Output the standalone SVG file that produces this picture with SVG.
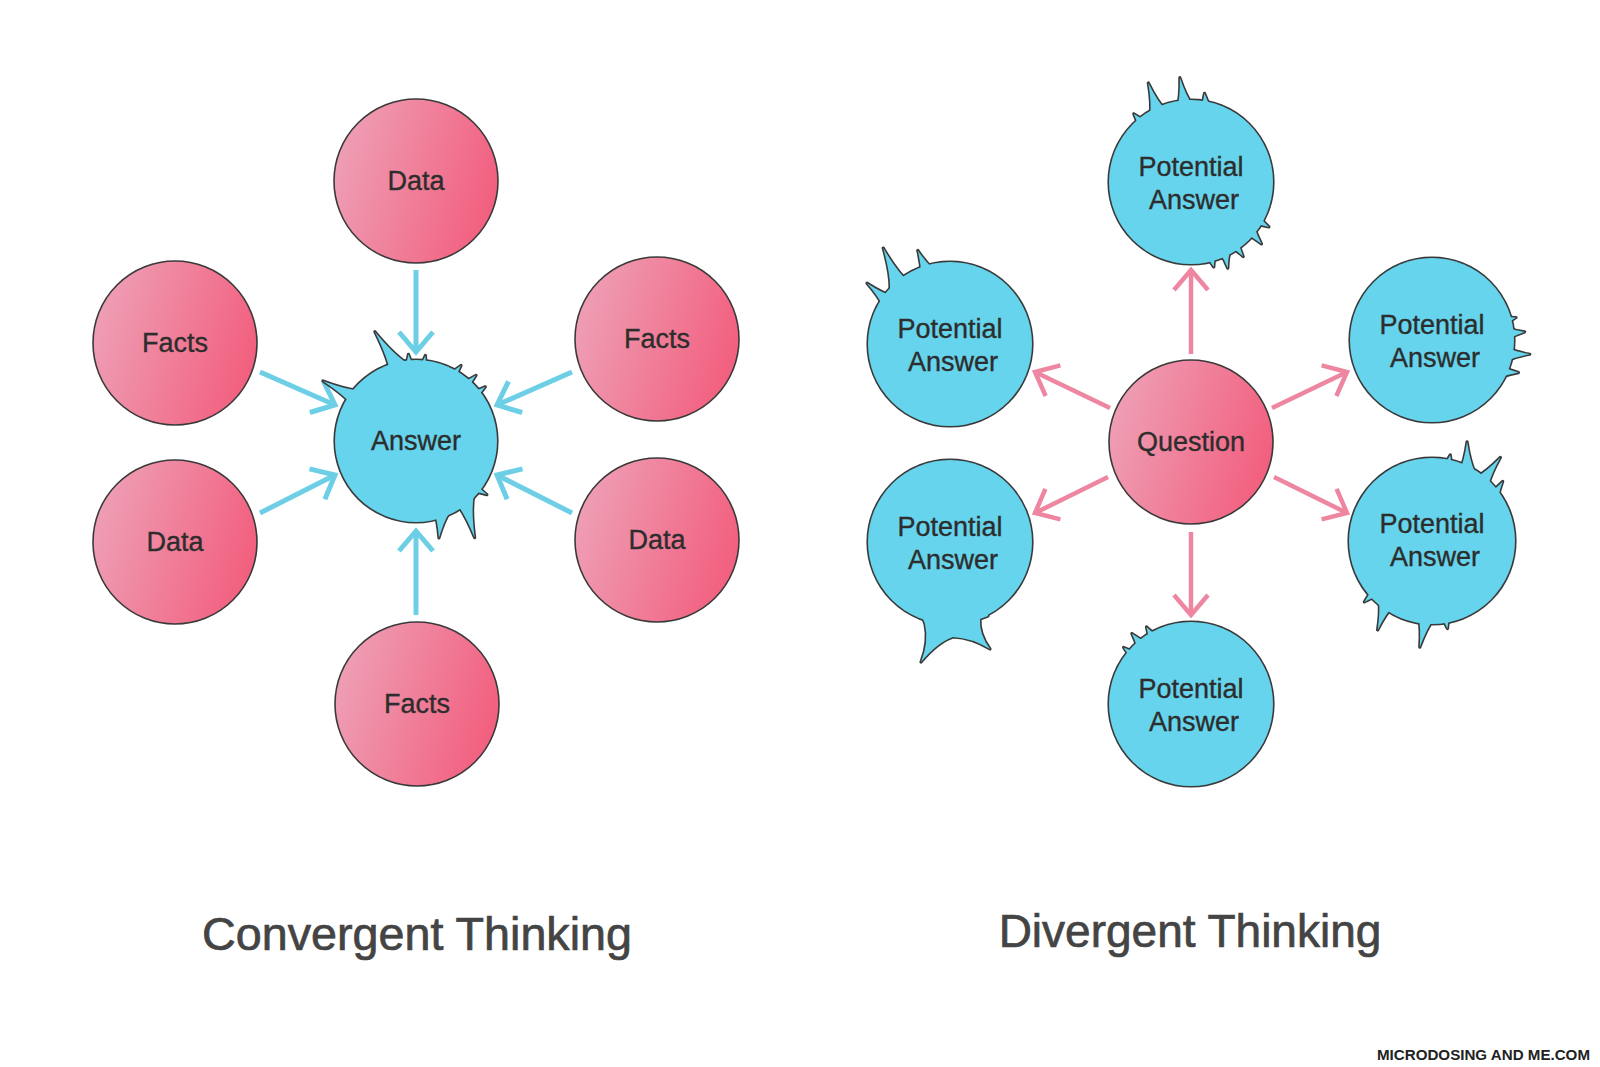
<svg xmlns="http://www.w3.org/2000/svg" xmlns:xlink="http://www.w3.org/1999/xlink" width="1600" height="1067" viewBox="0 0 1600 1067">
<style>
.pink{fill:url(#pg);stroke:#3a3a3a;stroke-width:1.6}
.ol{fill:#65d4ec;stroke:#3a3a3a;stroke-width:3.2;stroke-linejoin:round}
.fo{fill:#65d4ec;stroke:none}
.lbl{font-family:"Liberation Sans",Arial,Helvetica,sans-serif;font-size:27px;fill:#2d2d2d;stroke:#2d2d2d;stroke-width:0.35;text-anchor:middle}
.title{font-family:"Liberation Sans",Arial,Helvetica,sans-serif;font-size:46px;fill:#444;stroke:#444;stroke-width:0.7;text-anchor:middle}
.cv{stroke:#6dcfe6;stroke-width:5;fill:none;marker-end:url(#ab)}
.dv{stroke:#ee86a2;stroke-width:4.5;fill:none;marker-end:url(#ap)}
</style>
<defs>
<linearGradient id="pg" x1="0" y1="0.2" x2="1" y2="0.5">
<stop offset="0" stop-color="#eea2b8"/>
<stop offset="1" stop-color="#f2607f"/>
</linearGradient>
<marker id="ab" markerUnits="userSpaceOnUse" orient="auto" markerWidth="60" markerHeight="60" viewBox="-30 -30 60 60" refX="0" refY="0" overflow="visible">
<path d="M-20,-17 L0,0 L-20,17" fill="none" stroke="#6dcfe6" stroke-width="5"/>
</marker>
<marker id="ap" markerUnits="userSpaceOnUse" orient="auto" markerWidth="60" markerHeight="60" viewBox="-30 -30 60 60" refX="0" refY="0" overflow="visible">
<path d="M-20,-17 L0,0 L-20,17" fill="none" stroke="#ee86a2" stroke-width="4.5"/>
</marker>

<g id="sh-ans">
<circle cx="416" cy="441" r="81"/>
<g transform="translate(416,441)">
<path transform="rotate(-105) translate(81,0) rotate(-18)" d="M-7,-10 Q7,-3.5 37,0 Q7,3.5 -7,10Z"/>
<path transform="rotate(-145) translate(81,0) rotate(-8)" d="M-7,-8 Q6,-2.8 30,0 Q6,2.8 -7,8Z"/>
<path transform="rotate(-95) translate(81,0)" d="M-7,-4 Q1.2,-1.4 6,0 Q1.2,1.4 -7,4Z"/>
<path transform="rotate(-84) translate(81,0) rotate(5)" d="M-7,-3 Q1,-1 5,0 Q1,1 -7,3Z"/>
<path transform="rotate(-60) translate(81,0) rotate(10)" d="M-7,-4 Q1.4,-1.4 7,0 Q1.4,1.4 -7,4Z"/>
<path transform="rotate(-48) translate(81,0) rotate(5)" d="M-7,-4 Q1.6,-1.4 8,0 Q1.6,1.4 -7,4Z"/>
<path transform="rotate(-38) translate(81,0)" d="M-7,-4 Q1.4,-1.4 7,0 Q1.4,1.4 -7,4Z"/>
<path transform="rotate(38) translate(81,0) rotate(-10)" d="M-7,-4 Q1.6,-1.4 8,0 Q1.6,1.4 -7,4Z"/>
<path transform="rotate(52) translate(81,0) rotate(23)" d="M-7,-10 Q7,-3.5 34,0 Q7,3.5 -7,10Z"/>
<path transform="rotate(72) translate(81,0) rotate(24)" d="M-7,-8 Q4,-2.8 20,0 Q4,2.8 -7,8Z"/>
</g>
</g>

<g id="sh-pa1">
<circle cx="1191" cy="182" r="82"/>
<g transform="translate(1191,182)">
<path transform="rotate(-115) translate(82,0) rotate(7)" d="M-7,-9 Q5,-3 26,0 Q5,3 -7,9Z"/>
<path transform="rotate(-95) translate(82,0) rotate(-5)" d="M-7,-8 Q4.6,-2.8 23,0 Q4.6,2.8 -7,8Z"/>
<path transform="rotate(-80) translate(82,0) rotate(-15)" d="M-7,-5 Q1.6,-1.6 8,0 Q1.6,1.6 -7,5Z"/>
<path transform="rotate(-130) translate(82,0)" d="M-7,-5 Q1.4,-1.6 7,0 Q1.4,1.6 -7,5Z"/>
<path transform="rotate(30) translate(82,0)" d="M-7,-5 Q1.6,-1.6 8,0 Q1.6,1.6 -7,5Z"/>
<path transform="rotate(40) translate(82,0) rotate(10)" d="M-7,-6 Q2.4,-2 12,0 Q2.4,2 -7,6Z"/>
<path transform="rotate(55) translate(82,0)" d="M-7,-5 Q1.8,-1.6 9,0 Q1.8,1.6 -7,5Z"/>
<path transform="rotate(65) translate(82,0) rotate(15)" d="M-7,-6 Q2.4,-2 12,0 Q2.4,2 -7,6Z"/>
<path transform="rotate(75) translate(82,0)" d="M-7,-5 Q1.2,-1.6 6,0 Q1.2,1.6 -7,5Z"/>
</g>
</g>

<g id="sh-pa2">
<circle cx="950" cy="344" r="82"/>
<g transform="translate(950,344)">
<path transform="rotate(-130) translate(82,0) rotate(17)" d="M-7,-11 Q7,-3.8 36,0 Q7,3.8 -7,11Z"/>
<path transform="rotate(-108) translate(82,0) rotate(-6)" d="M-7,-7 Q3.4,-2.4 17,0 Q3.4,2.4 -7,7Z"/>
<path transform="rotate(-145) translate(82,0) rotate(6)" d="M-7,-7 Q4.2,-2.4 21,0 Q4.2,2.4 -7,7Z"/>
</g>
</g>

<g id="sh-pa3">
<circle cx="1432" cy="340" r="82"/>
<g transform="translate(1432,340)">
<path transform="rotate(-15) translate(82,0)" d="M-7,-4 Q1,-1.4 5,0 Q1,1.4 -7,4Z"/>
<path transform="rotate(-5) translate(82,0)" d="M-7,-6 Q2.2,-2 11,0 Q2.2,2 -7,6Z"/>
<path transform="rotate(10) translate(82,0) rotate(-10)" d="M-7,-7 Q3.4,-2.4 17,0 Q3.4,2.4 -7,7Z"/>
<path transform="rotate(23) translate(82,0) rotate(-20)" d="M-7,-6 Q2.2,-2 11,0 Q2.2,2 -7,6Z"/>
</g>
</g>

<g id="sh-pa4">
<circle cx="950" cy="542" r="82"/>
<path d="M918,606 L925,624 Q929,642 921,662 Q938,642 953,637 Q972,638 990,649 Q979,634 980,619 L988,616 L985,604 Z"/>
</g>

<g id="sh-pa5">
<circle cx="1432" cy="541" r="83"/>
<g transform="translate(1432,541)">
<path transform="rotate(-65) translate(83,0) rotate(-25)" d="M-7,-8 Q4.8,-2.8 24,0 Q4.8,2.8 -7,8Z"/>
<path transform="rotate(-50) translate(83,0) rotate(-3)" d="M-7,-8 Q5,-2.8 25,0 Q5,2.8 -7,8Z"/>
<path transform="rotate(-38) translate(83,0) rotate(-20)" d="M-7,-5 Q2,-1.6 10,0 Q2,1.6 -7,5Z"/>
<path transform="rotate(-78) translate(83,0)" d="M-7,-4 Q1,-1.4 5,0 Q1,1.4 -7,4Z"/>
<path transform="rotate(95) translate(83,0) rotate(7)" d="M-7,-8 Q4.8,-2.8 24,0 Q4.8,2.8 -7,8Z"/>
<path transform="rotate(125) translate(83,0) rotate(-17)" d="M-7,-8 Q4.4,-2.8 22,0 Q4.4,2.8 -7,8Z"/>
<path transform="rotate(138) translate(83,0)" d="M-7,-5 Q1.6,-1.6 8,0 Q1.6,1.6 -7,5Z"/>
<path transform="rotate(80) translate(83,0)" d="M-7,-4 Q1.2,-1.4 6,0 Q1.2,1.4 -7,4Z"/>
</g>
</g>

<g id="sh-pa6">
<circle cx="1191" cy="704" r="82"/>
<g transform="translate(1191,704)">
<path transform="rotate(-130) translate(82,0)" d="M-7,-6 Q2,-2 10,0 Q2,2 -7,6Z"/>
<path transform="rotate(-120) translate(82,0)" d="M-7,-5 Q1.4,-1.6 7,0 Q1.4,1.6 -7,5Z"/>
<path transform="rotate(-140) translate(82,0)" d="M-7,-4 Q1.2,-1.4 6,0 Q1.2,1.4 -7,4Z"/>
</g>
</g>
</defs>

<rect width="1600" height="1067" fill="#ffffff"/>

<g id="connectors">
<path class="cv" d="M416,270 L416,352"/>
<path class="cv" d="M416,615 L416,531"/>
<path class="cv" d="M260,372 L335,405"/>
<path class="cv" d="M260,513 L335,475"/>
<path class="cv" d="M572,372 L497,405"/>
<path class="cv" d="M572,513 L497,475"/>
<path class="dv" d="M1191,354 L1191,270"/>
<path class="dv" d="M1191,532 L1191,615"/>
<path class="dv" d="M1110,408 L1035,372"/>
<path class="dv" d="M1272,408 L1347,372"/>
<path class="dv" d="M1108,477 L1035,513"/>
<path class="dv" d="M1274,477 L1347,513"/>
</g>

<g id="conv-data-top"><circle class="pink" cx="416" cy="181" r="82"/><text class="lbl" x="416" y="190">Data</text></g>
<g id="conv-facts-left"><circle class="pink" cx="175" cy="343" r="82"/><text class="lbl" x="175" y="352">Facts</text></g>
<g id="conv-facts-right"><circle class="pink" cx="657" cy="339" r="82"/><text class="lbl" x="657" y="348">Facts</text></g>
<g id="conv-data-left"><circle class="pink" cx="175" cy="542" r="82"/><text class="lbl" x="175" y="551">Data</text></g>
<g id="conv-data-right"><circle class="pink" cx="657" cy="540" r="82"/><text class="lbl" x="657" y="549">Data</text></g>
<g id="conv-facts-bottom"><circle class="pink" cx="417" cy="704" r="82"/><text class="lbl" x="417" y="713">Facts</text></g>
<g id="conv-answer"><use xlink:href="#sh-ans" class="ol"/><use xlink:href="#sh-ans" class="fo"/><text class="lbl" x="416" y="450">Answer</text></g>

<g id="div-question"><circle class="pink" cx="1191" cy="442" r="82"/><text class="lbl" x="1191" y="451">Question</text></g>
<g id="div-pa-top"><use xlink:href="#sh-pa1" class="ol"/><use xlink:href="#sh-pa1" class="fo"/><text class="lbl" x="1191" y="176">Potential</text><text class="lbl" x="1194" y="209">Answer</text></g>
<g id="div-pa-left-top"><use xlink:href="#sh-pa2" class="ol"/><use xlink:href="#sh-pa2" class="fo"/><text class="lbl" x="950" y="338">Potential</text><text class="lbl" x="953" y="371">Answer</text></g>
<g id="div-pa-right-top"><use xlink:href="#sh-pa3" class="ol"/><use xlink:href="#sh-pa3" class="fo"/><text class="lbl" x="1432" y="334">Potential</text><text class="lbl" x="1435" y="367">Answer</text></g>
<g id="div-pa-left-bottom"><use xlink:href="#sh-pa4" class="ol"/><use xlink:href="#sh-pa4" class="fo"/><text class="lbl" x="950" y="536">Potential</text><text class="lbl" x="953" y="569">Answer</text></g>
<g id="div-pa-right-bottom"><use xlink:href="#sh-pa5" class="ol"/><use xlink:href="#sh-pa5" class="fo"/><text class="lbl" x="1432" y="533">Potential</text><text class="lbl" x="1435" y="566">Answer</text></g>
<g id="div-pa-bottom"><use xlink:href="#sh-pa6" class="ol"/><use xlink:href="#sh-pa6" class="fo"/><text class="lbl" x="1191" y="698">Potential</text><text class="lbl" x="1194" y="731">Answer</text></g>

<text class="title" x="417" y="950" textLength="430" lengthAdjust="spacingAndGlyphs">Convergent Thinking</text>
<text class="title" x="1190" y="947">Divergent Thinking</text>
<text x="1590" y="1060" text-anchor="end" font-family="'Liberation Sans',Arial,sans-serif" font-size="15" font-weight="bold" fill="#222" textLength="213" lengthAdjust="spacingAndGlyphs">MICRODOSING AND ME.COM</text>
</svg>
